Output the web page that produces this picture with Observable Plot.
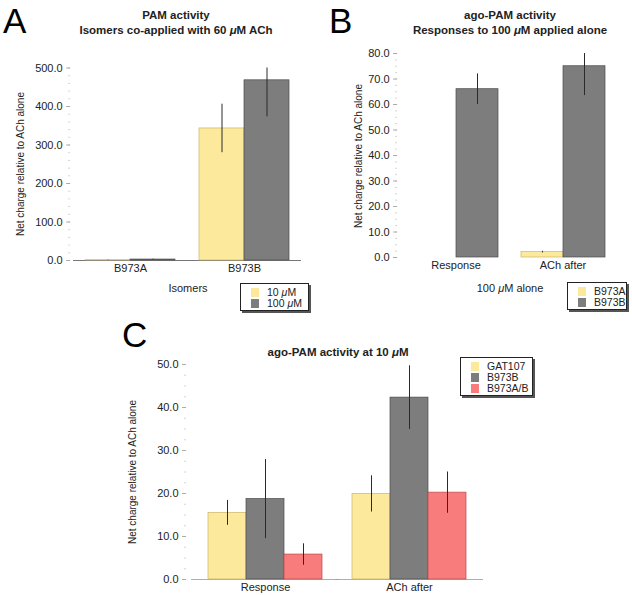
<!DOCTYPE html>
<html><head><meta charset="utf-8">
<script src="https://cdn.jsdelivr.net/npm/d3@7"></script>
<script src="https://cdn.jsdelivr.net/npm/@observablehq/plot@0.6"></script>
<style>
body{margin:0;background:#fff;font-family:"Liberation Sans",Arial,sans-serif;color:#222;}
#fig{position:relative;width:632px;height:595px;overflow:hidden;background:#fff;}
.abs{position:absolute;}
.letter{position:absolute;font-size:35px;line-height:35px;color:#000;}
.title{position:absolute;font-size:11.5px;font-weight:bold;text-align:center;line-height:14.5px;color:#222;white-space:nowrap;transform:translateX(-50%);}
.lab{position:absolute;font-size:11px;white-space:nowrap;transform:translate(-50%,-50%);color:#222;}
.ylab{position:absolute;font-size:10px;white-space:nowrap;transform:translate(-50%,-50%) rotate(-90deg);color:#222;}
.legend{position:absolute;border:1px solid #222;box-shadow:2px 2px 0 #555;background:#fff;font-size:10.5px;line-height:11px;box-sizing:border-box;padding:3px 4px 2px 10px;}
.legend .row{display:flex;align-items:center;height:11px;}
.legend .sw{width:8px;height:9px;margin-right:8px;flex:none;}
</style></head><body><div id="fig"></div>
<script>
// ---------- Data ----------
// Panel A
const aCategories = ["B973A", "B973B"];
const aSeries = ["10 μM", "100 μM"];
const aMean10 = [0.8, 343];
const aErr10 = [0.5, 63];
const aMean100 = [2.5, 468];
const aErr100 = [1.0, 95];
const aTicks = [0, 100, 200, 300, 400, 500];

// Panel B
const bCategories = ["Response", "ACh after"];
const bSeries = ["B973A", "B973B"];
const bMeanA = [0.0, 2.1];
const bErrA = [0.0, 0.3];
const bMeanB = [66.0, 75.0];
const bErrB = [6.0, 11.5];
const bTicks = [0, 10, 20, 30, 40, 50, 60, 70, 80];

// Panel C
const cCategories = ["Response", "ACh after"];
const cSeries = ["GAT107", "B973B", "B973A/B"];
const cMeanGAT = [15.5, 19.9];
const cErrGAT = [2.9, 4.2];
const cMeanB = [18.7, 42.3];
const cErrB = [9.2, 7.4];
const cMeanAB = [5.8, 20.2];
const cErrAB = [2.5, 4.8];
const cTicks = [0, 10, 20, 30, 40, 50];

const yellow = "#fde99c", gray = "#7d7d7d", red = "#f87c7c";
const yellowEdge = "#c9b56a", grayEdge = "#4a4a4a", redEdge = "#b84a4a";

// ---------- helpers ----------
const fig = document.getElementById("fig");
function add(html, cls, style) {
  const d = document.createElement("div");
  d.className = cls; d.innerHTML = html;
  Object.assign(d.style, style);
  fig.appendChild(d); return d;
}
function legend(series, colors, style) {
  return add(series.map((s, i) =>
    `<div class="row"><div class="sw" style="background:${colors[i]}"></div><span>${s.replace("μ", "<i>μ</i>")}</span></div>`).join(""),
    "legend", style);
}
function panel(o) {
  const rows = [];
  o.cats.forEach((c, i) => o.series.forEach((s, j) => {
    const m = o.means[j][i], e = o.errs[j][i];
    rows.push({cat: c, series: s, mean: m, lo: m - e, hi: m + e});
  }));
  // facet band geometry: y axis sits at the frame's left edge, not the first facet's
  const W = o.width - o.ml - o.mr;
  const step = W / (o.cats.length - o.pi + 2 * o.po);
  const outer = o.po * step;
  const marks = [
    Plot.axisY({ticks: o.minor, tickSize: 2, text: null, label: null, stroke: "#d4d4d4", dx: -outer}),
    Plot.axisY({ticks: o.ticks, tickSize: 4, tickPadding: 4, tickFormat: d => d.toFixed(1), label: null, stroke: "#aaa", fontSize: 11, fill: "#222", dx: -outer}),
    Plot.barY(rows, {fx: "cat", x: "series", y: "mean", fill: "series", stroke: "series", strokeWidth: 0.7}),
    Plot.ruleX(rows.filter(r => r.hi > r.lo), {fx: "cat", x: "series", y1: "lo", y2: "hi", stroke: "#2a2a2a", strokeWidth: 1, clip: true})
  ];
  if (o.baseline) marks.unshift(Plot.ruleY([0], {stroke: o.baseColor, strokeWidth: 0.8, insetLeft: -o.baseInset, insetRight: -o.baseInset}));
  const chart = Plot.plot({
    width: o.width, height: o.height,
    marginTop: o.mt, marginRight: o.mr, marginBottom: o.mb, marginLeft: o.ml,
    style: {fontFamily: "'Liberation Sans', Arial, sans-serif", fontSize: "11px", color: "#222", background: "transparent", overflow: "visible"},
    fx: {domain: o.cats, paddingInner: o.pi, paddingOuter: o.po, axis: "bottom", label: null, tickSize: 0, tickPadding: 4},
    x: {domain: o.series, padding: 0, axis: null},
    y: {domain: [0, o.yMax], axis: null},
    color: {domain: o.series, range: o.colors},
    marks
  });
  const wrap = document.createElement("div");
  wrap.className = "abs";
  Object.assign(wrap.style, {left: o.left + "px", top: o.top + "px"});
  wrap.appendChild(chart);
  fig.appendChild(wrap);
  return chart;
}

// ---------- Panel A ----------
panel({
  cats: aCategories, series: aSeries, means: [aMean10, aMean100], errs: [aErr10, aErr100],
  colors: [yellow, gray], ticks: aTicks, minor: d3.range(0, 501, 20), yMax: 500,
  width: 320, height: 300, mt: 67.5, mr: 16, mb: 40, ml: 70, pi: 0.21, po: 0.13,
  left: 0, top: 0, baseline: true, baseInset: 12, baseColor: "#555"
});
add("A", "letter", {left: "3px", top: "3px"});
add("PAM activity<br>Isomers co-applied with 60 <i>μ</i>M ACh", "title", {left: "176px", top: "8px"});
add("Net charge relative to ACh alone", "ylab", {left: "20px", top: "164px"});
add("Isomers", "lab", {left: "188px", top: "288px"});
legend(aSeries, [yellow, gray], {left: "240px", top: "283px", width: "69px", height: "28px"});

// ---------- Panel B ----------
panel({
  cats: bCategories, series: bSeries, means: [bMeanA, bMeanB], errs: [bErrA, bErrB],
  colors: [yellow, gray], ticks: bTicks, minor: d3.range(0, 81, 2.5), yMax: 80,
  width: 312, height: 300, mt: 53, mr: 10, mb: 43, ml: 77, pi: 0.204, po: 0.148,
  left: 320, top: 0, baseline: false, baseInset: 0
});
add("B", "letter", {left: "329px", top: "3px"});
add("ago-PAM activity<br>Responses to 100 <i>μ</i>M applied alone", "title", {left: "510px", top: "8px"});
add("Net charge relative to ACh alone", "ylab", {left: "358px", top: "156px"});
add("100 <i>μ</i>M alone", "lab", {left: "510px", top: "288px"});
legend(bSeries, [yellow, gray], {left: "567px", top: "282px", width: "60px", height: "28px"});

// ---------- Panel C ----------
panel({
  cats: cCategories, series: cSeries, means: [cMeanGAT, cMeanB, cMeanAB], errs: [cErrGAT, cErrB, cErrAB],
  colors: [yellow, gray, red], ticks: cTicks, minor: d3.range(0, 51, 2.5), yMax: 50,
  width: 400, height: 295, mt: 64, mr: 11, mb: 16, ml: 86, pi: 0.193, po: 0.145,
  left: 100, top: 300, baseline: true, baseInset: 16, baseColor: "#999"
});
add("C", "letter", {left: "122px", top: "317px"});
add("ago-PAM activity at 10 <i>μ</i>M", "title", {left: "338px", top: "345px"});
add("Net charge relative to ACh alone", "ylab", {left: "132px", top: "472px"});
legend(cSeries, [yellow, gray, red], {left: "460px", top: "357px", width: "73px", height: "39px"});

// darker bar edges
document.querySelectorAll("svg g[aria-label='bar'] rect").forEach(r => {
  const f = r.getAttribute("fill");
  const map = {[yellow]: yellowEdge, [gray]: grayEdge, [red]: redEdge};
  if (map[f]) r.setAttribute("stroke", map[f]);
});
</script></body></html>
